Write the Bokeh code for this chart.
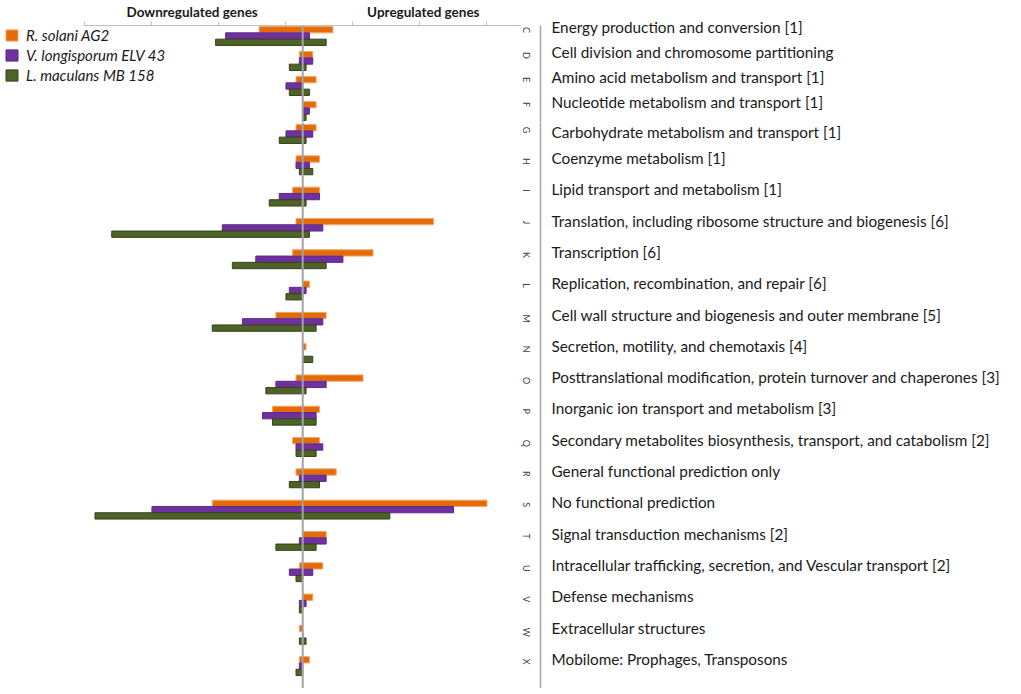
import math
from bokeh.plotting import figure
from bokeh.models import (ColumnDataSource, Range1d, LinearAxis, FixedTicker,
                          Span, Legend, LegendItem)
from bokeh.transform import dodge
from bokeh.layouts import column
from bokeh.embed import file_html
from bokeh.resources import INLINE

# ---------------- data ----------------
letters = ["C", "D", "E", "F", "G", "H", "I", "J", "K", "L", "M",
           "N", "O", "P", "Q", "R", "S", "T", "U", "V", "W", "X"]
descriptions = [
    "Energy production and conversion [1]",
    "Cell division and chromosome partitioning",
    "Amino acid metabolism and transport [1]",
    "Nucleotide metabolism and transport [1]",
    "Carbohydrate metabolism and transport [1]",
    "Coenzyme metabolism [1]",
    "Lipid transport and metabolism [1]",
    "Translation, including ribosome structure and biogenesis [6]",
    "Transcription [6]",
    "Replication, recombination, and repair [6]",
    "Cell wall structure and biogenesis and outer membrane [5]",
    "Secretion, motility, and chemotaxis [4]",
    "Posttranslational modification, protein turnover and chaperones [3]",
    "Inorganic ion transport and metabolism [3]",
    "Secondary metabolites biosynthesis, transport, and catabolism [2]",
    "General functional prediction only",
    "No functional prediction",
    "Signal transduction mechanisms [2]",
    "Intracellular trafficking, secretion, and Vescular transport [2]",
    "Defense mechanisms",
    "Extracellular structures",
    "Mobilome: Prophages, Transposons",
]
series_names = ["R. solani AG2", "V. longisporum ELV 43", "L. maculans MB 158"]

# number of down- and up-regulated genes per category
rsolani_down = [13, 1, 2, 0, 2, 2, 3, 2, 3, 0, 8, 0, 2, 9, 3, 2, 27, 0, 1, 0, 1, 1]
rsolani_up = [9, 3, 4, 4, 4, 5, 5, 39, 21, 2, 7, 1, 18, 5, 5, 10, 55, 7, 6, 3, 0, 2]
vlong_down = [23, 1, 5, 0, 5, 2, 7, 24, 14, 4, 18, 0, 8, 12, 2, 1, 45, 1, 4, 1, 0, 1]
vlong_up = [2, 3, 0, 2, 3, 2, 5, 6, 12, 1, 6, 0, 7, 4, 6, 7, 45, 7, 3, 1, 0, 0]
lmac_down = [26, 4, 4, 0, 7, 1, 10, 57, 21, 5, 27, 0, 11, 9, 2, 4, 62, 8, 2, 1, 1, 2]
lmac_up = [7, 1, 2, 1, 1, 3, 1, 2, 7, 0, 4, 3, 1, 4, 4, 5, 26, 4, 0, 0, 1, 0]

head_labels = ["Downregulated genes", "Upregulated genes"]

# ---------------- style / layout ----------------
FONT = "Lato"
FILLS = ["#E36C09", "#7030A0", "#4F6228"]
LINES = ["#F6A66B", "#5C2A86", "#34421A"]
X_START, X_END = -90.2, 65.0
AXIS_BOUNDS = (-65, 65)
TICK_MARKS = [-65, -45, -25, -5, 15, 35, 55]
HEAD_POS = [-33, 36]
FRAME_W = 520
SPLIT = 4

series = [(rsolani_down, rsolani_up), (vlong_down, vlong_up), (lmac_down, lmac_up)]
x_range = Range1d(X_START, X_END)


def make_panel(start, stop, frame_h, row_px, first_px, bar_px, head):
    n = stop - start
    idx = list(range(n))
    y_top = -first_px / row_px
    y_bottom = (frame_h - first_px) / row_px
    bar_h = 6.3 / row_px
    bar_off = bar_px / row_px
    p = figure(frame_width=FRAME_W, frame_height=frame_h, x_range=x_range,
               y_range=Range1d(y_bottom, y_top), x_axis_location=None,
               y_axis_location=None, toolbar_location=None, output_backend="svg",
               title=None, min_border=0, outline_line_color=None,
               background_fill_color="white", border_fill_color="white")
    p.grid.visible = False
    rends = []
    for j, (down, up) in enumerate(series):
        src = ColumnDataSource(dict(idx=idx,
                                    left=[-v for v in down[start:stop]],
                                    right=up[start:stop]))
        r = p.hbar(y=dodge("idx", bar_off + (j - 1) * bar_h), left="left",
                   right="right", height=bar_h, source=src,
                   fill_color=FILLS[j], line_color=LINES[j], line_width=1)
        rends.append(r)
    p.add_layout(Span(location=0, dimension="height", line_color="#a3a3a3",
                      line_width=2))

    ax_l = LinearAxis(ticker=FixedTicker(ticks=idx),
                      major_label_overrides={i: letters[start + i] for i in idx},
                      axis_line_color=None, major_tick_line_color=None,
                      minor_tick_line_color=None, major_tick_out=0,
                      major_tick_in=0, minor_tick_out=0, minor_tick_in=0,
                      major_label_standoff=6,
                      major_label_orientation=-math.pi / 2,
                      major_label_text_font=FONT,
                      major_label_text_font_size="9px",
                      major_label_text_color="#404040")
    p.add_layout(ax_l, "right")
    ax_d = LinearAxis(ticker=FixedTicker(ticks=idx),
                      major_label_overrides={i: descriptions[start + i] for i in idx},
                      axis_line_color="#a6a6a6", axis_line_width=1.5,
                      major_tick_line_color=None, minor_tick_line_color=None,
                      major_tick_out=0, major_tick_in=0, minor_tick_out=0,
                      minor_tick_in=0, major_label_standoff=11,
                      major_label_text_font=FONT,
                      major_label_text_font_size="15.3px",
                      major_label_text_color="#1a1a1a")
    p.add_layout(ax_d, "right")

    if head:
        ax_t = LinearAxis(ticker=FixedTicker(ticks=HEAD_POS, minor_ticks=TICK_MARKS),
                          major_label_overrides={HEAD_POS[i]: head_labels[i] for i in range(2)},
                          bounds=AXIS_BOUNDS, axis_line_color="#bfbfbf",
                          major_tick_line_color=None, major_tick_out=0,
                          major_tick_in=0, minor_tick_line_color="#bfbfbf",
                          minor_tick_out=4, minor_tick_in=0,
                          major_label_standoff=2, major_label_text_font=FONT,
                          major_label_text_font_style="bold",
                          major_label_text_font_size="13.5px",
                          major_label_text_color="#1a1a1a")
        p.add_layout(ax_t, "above")
        legend = Legend(items=[LegendItem(label=series_names[j], renderers=[rends[j]])
                               for j in range(3)],
                        location=(4, frame_h - 59), margin=0,
                        padding=0, spacing=2,
                        glyph_width=15, glyph_height=14, label_standoff=7,
                        label_text_font=FONT, label_text_font_style="italic",
                        label_text_font_size="15px", label_text_color="#1a1a1a",
                        border_line_color=None, background_fill_alpha=0)
        p.add_layout(legend)
    return p


top = make_panel(0, SPLIT, 97, 25.0, 1.5, 9.0, True)
bottom = make_panel(SPLIT, len(letters), 566, 31.3, 4.2, 7.3, False)
layout = column(top, bottom, spacing=0)

open("out.html", "w").write(file_html(layout, INLINE))
